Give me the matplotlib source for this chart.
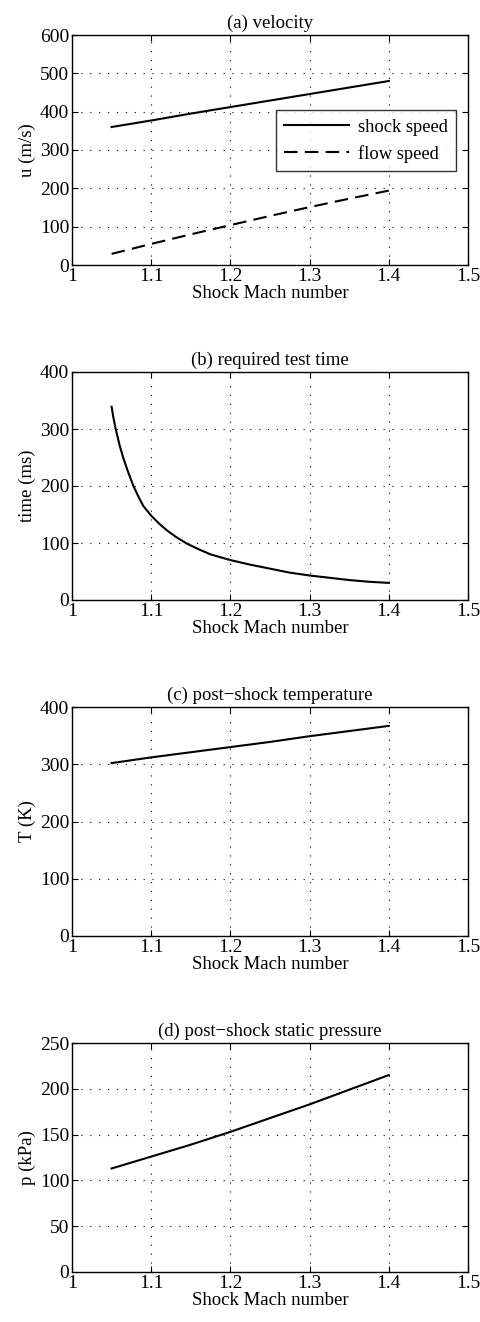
import matplotlib
matplotlib.use("Agg")
import matplotlib.pyplot as plt

plt.rcParams['font.family'] = ['Liberation Serif', 'DejaVu Serif']
plt.rcParams['mathtext.fontset'] = 'stix'

# Shock Mach number samples
mach = [1.05, 1.10, 1.15, 1.20, 1.25, 1.30, 1.35, 1.40]

# (a) velocities (m/s)
shock_speed = [360, 377, 395, 412, 429, 446, 463, 480]
flow_speed = [29, 55, 80, 104, 128, 151, 173, 194]

# (b) required test time (ms), denser near the low-Mach end
mach_t = [1.050, 1.052, 1.055, 1.060, 1.065, 1.071, 1.0775, 1.084, 1.090,
          1.100, 1.110, 1.120, 1.132, 1.145, 1.160, 1.175, 1.200, 1.225,
          1.250, 1.275, 1.300, 1.325, 1.350, 1.375, 1.400]
test_time = [339, 322, 301, 272, 248, 224, 200, 181, 165,
             148, 134, 122, 110, 99, 89, 80, 70, 62,
             55, 48, 43, 39, 35, 32, 30]

# (c) post-shock temperature (K)
temperature = [302, 312, 321, 330, 339, 349, 358, 367]

# (d) post-shock static pressure (kPa)
pressure = [113, 126, 139, 153, 168, 183, 199, 215]

titles = ['(a) velocity', '(b) required test time',
          '(c) post\u2212shock temperature',
          '(d) post\u2212shock static pressure']
ylabels = ['u (m/s)', 'time (ms)', 'T (K)', 'p (kPa)']
ylims = [(0, 600), (0, 400), (0, 400), (0, 250)]
yticks = [range(0, 601, 100), range(0, 401, 100), range(0, 401, 100),
          range(0, 251, 50)]
xticks = [1.0, 1.1, 1.2, 1.3, 1.4, 1.5]
xticklabels = ['1', '1.1', '1.2', '1.3', '1.4', '1.5']

W, H = 481, 1322
fig = plt.figure(figsize=(W / 100, H / 100), dpi=100)

# axes boxes in pixels: (top, bottom)
boxes = [(35, 265), (372, 600), (707, 936), (1043, 1272)]
left_px, right_px = 72, 468

axes = []
for (top, bot) in boxes:
    ax = fig.add_axes([left_px / W, 1 - bot / H, (right_px - left_px) / W,
                       (bot - top) / H])
    axes.append(ax)

lw = 1.5
axes[0].plot(mach, shock_speed, color='black', lw=lw, label='shock speed')
axes[0].plot(mach, flow_speed, color='black', lw=lw, dashes=(6.5, 3.5),
             label='flow speed')
axes[1].plot(mach_t, test_time, color='black', lw=lw,
             solid_joinstyle='round')
axes[2].plot(mach, temperature, color='black', lw=lw)
axes[3].plot(mach, pressure, color='black', lw=lw)

for i, ax in enumerate(axes):
    ax.set_xlim(1.0, 1.5)
    ax.set_ylim(*ylims[i])
    ax.set_xticks(xticks)
    ax.set_xticklabels(xticklabels)
    ax.set_yticks(list(yticks[i]))
    ax.tick_params(direction='in', top=True, right=True, labelsize=14,
                   length=4, width=0.8, pad=2, colors='black')
    ax.grid(True, color='black', linestyle=(0, (1, 7)), linewidth=0.8)
    for s in ax.spines.values():
        s.set_linewidth(1.0)
    ax.set_title(titles[i], fontsize=13.5, pad=5)
    ax.set_xlabel('Shock Mach number', fontsize=13.5, labelpad=0)
    ax.set_ylabel(ylabels[i], fontsize=13.5, labelpad=3)

leg = axes[0].legend(loc='upper right', bbox_to_anchor=(0.97, 0.672),
                     fontsize=13.3, frameon=True, fancybox=False,
                     edgecolor='black', handlelength=3.5, borderpad=0.45,
                     labelspacing=0.5, handletextpad=0.5,
                     borderaxespad=0.0)
leg.get_frame().set_linewidth(1.0)

fig.savefig('out.png', dpi=100)
